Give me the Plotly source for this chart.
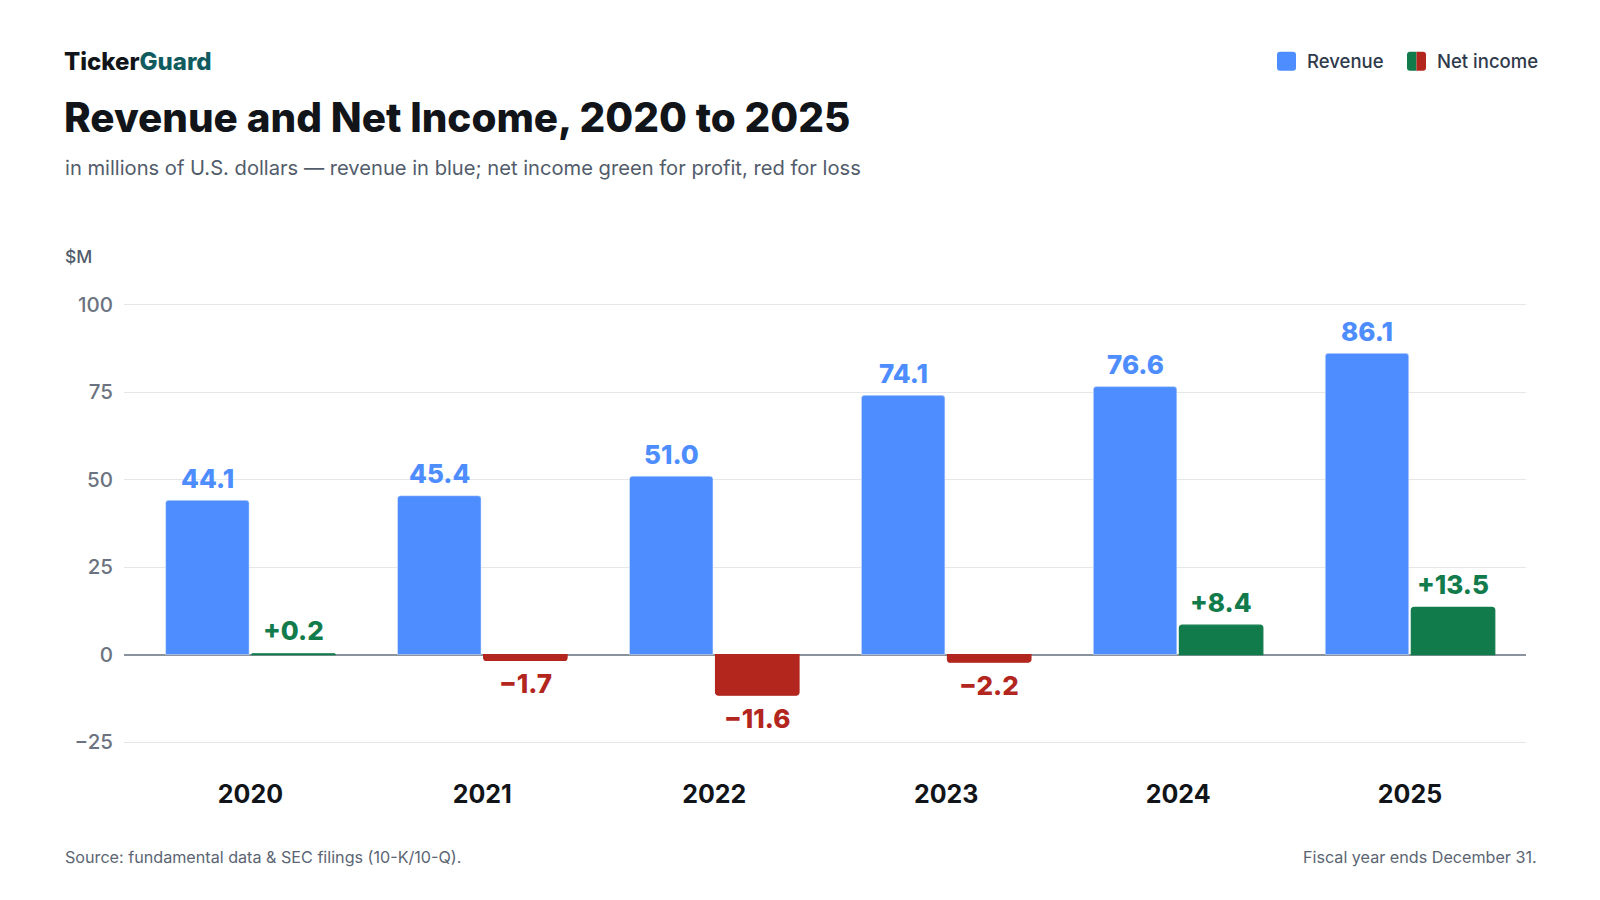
import plotly.graph_objects as go

years = ["2020", "2021", "2022", "2023", "2024", "2025"]
revenue = [44.1, 45.4, 51.0, 74.1, 76.6, 86.1]
net_income = [0.2, -1.7, -11.6, -2.2, 8.4, 13.5]
y_ticks = [-25, 0, 25, 50, 75, 100]

BLUE = "#4d8dff"
GREEN = "#127b4c"
RED = "#b3261e"
FONT = "Inter"

W, H = 1600, 900
L, R, T, B = 124, 74, 303, 123.3
PW, PH = W - L - R, H - T - B

def px(x):
    return (x - L) / PW

def py(y):
    return 1 - (y - T) / PH

ni_colors = [GREEN if v >= 0 else RED for v in net_income]

BARGAP = 0.258
BARGROUPGAP = 0.03

fig = go.Figure()
fig.add_trace(go.Bar(
    x=years, y=revenue, name="Revenue",
    marker=dict(color=BLUE, cornerradius=3),
    hoverinfo="skip",
))
fig.add_trace(go.Bar(
    x=years, y=net_income, name="Net income",
    marker=dict(color=ni_colors, cornerradius=3, line=dict(color=ni_colors, width=1.2)),
    hoverinfo="skip",
))

annotations = []
slot = (1 - BARGAP) / 2
for i, (rv, ni) in enumerate(zip(revenue, net_income)):
    annotations.append(dict(
        x=i - slot / 2, y=rv, xref="x", yref="y", text=f"{rv:.1f}",
        showarrow=False, yanchor="middle", yshift=22,
        font=dict(family=FONT, size=26, color=BLUE, weight=800),
    ))
    sign = "+" if ni >= 0 else "\u2212"
    annotations.append(dict(
        x=i + slot / 2, y=ni, xref="x", yref="y", text=f"{sign}{abs(ni):.1f}",
        showarrow=False, yanchor="middle", yshift=23 if ni >= 0 else -23,
        font=dict(family=FONT, size=26, color=GREEN if ni >= 0 else RED, weight=800),
    ))

# header texts
annotations += [
    dict(x=px(62), y=py(62), xref="paper", yref="paper", xanchor="left", yanchor="middle",
         text="Ticker<span style='color:#0f5b5f'>Guard</span>", showarrow=False,
         font=dict(family=FONT, size=24, color="#111418", weight=800)),
    dict(x=px(62), y=py(118), xref="paper", yref="paper", xanchor="left", yanchor="middle",
         text="Revenue and Net Income, 2020 to 2025", showarrow=False,
         font=dict(family=FONT, size=40.4, color="#111418", weight=800)),
    dict(x=px(63), y=py(168), xref="paper", yref="paper", xanchor="left", yanchor="middle",
         text="in millions of U.S. dollars \u2014 revenue in blue; net income green for profit, red for loss",
         showarrow=False, font=dict(family=FONT, size=20.15, color="#525c6b")),
    dict(x=px(63), y=py(257), xref="paper", yref="paper", xanchor="left", yanchor="middle",
         text="$M", showarrow=False, font=dict(family=FONT, size=17.5, color="#525c6b", weight=500)),
    dict(x=px(63), y=py(857), xref="paper", yref="paper", xanchor="left", yanchor="middle",
         text="Source: fundamental data &amp; SEC filings (10-K/10-Q).", showarrow=False,
         font=dict(family=FONT, size=16.15, color="#5b6573")),
    dict(x=px(1539), y=py(857), xref="paper", yref="paper", xanchor="right", yanchor="middle",
         text="Fiscal year ends December 31.", showarrow=False,
         font=dict(family=FONT, size=16.15, color="#5b6573")),
    dict(x=px(1305), y=py(61.5), xref="paper", yref="paper", xanchor="left", yanchor="middle",
         text="Revenue", showarrow=False, font=dict(family=FONT, size=18.5, color="#2f3a4b", weight=500)),
    dict(x=px(1435), y=py(61.5), xref="paper", yref="paper", xanchor="left", yanchor="middle",
         text="Net income", showarrow=False, font=dict(family=FONT, size=18.5, color="#2f3a4b", weight=500)),
]

s, r = 9.5, 3
full = (f"M {-s+r},{-s} L {s-r},{-s} Q {s},{-s} {s},{-s+r} L {s},{s-r} Q {s},{s} {s-r},{s} "
        f"L {-s+r},{s} Q {-s},{s} {-s},{s-r} L {-s},{-s+r} Q {-s},{-s} {-s+r},{-s} Z")
left_half = (f"M 0,{-s} L {-s+r},{-s} Q {-s},{-s} {-s},{-s+r} L {-s},{s-r} Q {-s},{s} {-s+r},{s} L 0,{s} Z")
right_half = (f"M 0,{-s} L {s-r},{-s} Q {s},{-s} {s},{-s+r} L {s},{s-r} Q {s},{s} {s-r},{s} L 0,{s} Z")

def swatch(path, cx, cy, color):
    return dict(type="path", path=path, xref="paper", yref="paper",
                xsizemode="pixel", ysizemode="pixel", xanchor=px(cx), yanchor=py(cy),
                fillcolor=color, line=dict(width=0), layer="above")

shapes = [
    swatch(full, 1286.5, 61.5, BLUE),
    swatch(left_half, 1416.5, 61.5, GREEN),
    swatch(right_half, 1416.5, 61.5, RED),
]

fig.update_layout(
    width=W, height=H,
    margin=dict(l=L, r=R, t=T, b=B, pad=0),
    paper_bgcolor="white", plot_bgcolor="white",
    barmode="group", bargap=BARGAP, bargroupgap=BARGROUPGAP,
    showlegend=False,
    font=dict(family=FONT),
    annotations=annotations,
    shapes=shapes,
    xaxis=dict(
        type="category", range=[-0.545, 5.5], showgrid=False, showline=False,
        ticks="", tickfont=dict(family=FONT, size=25, color="#111418", weight=700),
        fixedrange=True,
    ),
    yaxis=dict(
        range=[-35, 100.5], tickvals=y_ticks, showgrid=True, gridcolor="#e5e7eb", gridwidth=1,
        zeroline=True, zerolinecolor="#8a939d", zerolinewidth=2,
        showline=False, ticks="", ticklabelstandoff=10,
        tickfont=dict(family=FONT, size=20.5, color="#6b7380", weight=500),
        fixedrange=True,
    ),
)

fig.write_html(
    "out.html",
    config={"displayModeBar": False},
    post_script="document.body.style.margin='0';document.body.style.overflow='hidden';",
)
